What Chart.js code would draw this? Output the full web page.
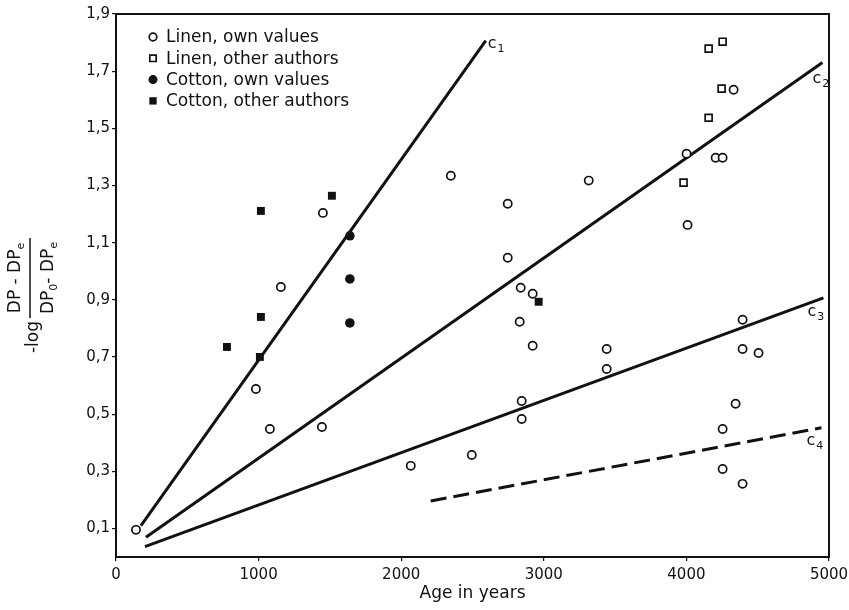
<!DOCTYPE html>
<html>
<head>
<meta charset="utf-8">
<script src="https://cdn.jsdelivr.net/npm/chart.js@4/dist/chart.umd.min.js"></script>
<style>
  html, body { margin: 0; padding: 0; background: #fff; }
  #wrap { width: 849px; height: 610px; }
</style>
</head>
<body>
<div id="wrap"><canvas id="agingChart"></canvas></div>
<script>
// values
const linenOwnX = [140, 981, 1079, 1156, 1451, 1444, 2067, 2495, 2348, 2747, 2747, 2838, 2922, 2831, 2922, 2845, 2845, 3315, 3441, 3441, 4001, 4008, 4205, 4254, 4331, 4394, 4394, 4506, 4345, 4254, 4254, 4394];
const linenOwnY = [0.095, 0.588, 0.448, 0.945, 1.204, 0.455, 0.319, 0.357, 1.334, 1.236, 1.047, 0.942, 0.921, 0.823, 0.739, 0.546, 0.483, 1.317, 0.728, 0.658, 1.411, 1.162, 1.397, 1.397, 1.635, 0.830, 0.728, 0.714, 0.536, 0.448, 0.308, 0.256];

const linenOtherX = [3980, 4156, 4247, 4156, 4254];
const linenOtherY = [1.310, 1.537, 1.639, 1.779, 1.803];

const cottonOwnX = [1640, 1640, 1640];
const cottonOwnY = [1.124, 0.973, 0.819];

const cottonOtherX = [778, 1016, 1009, 1016, 1514, 2964];
const cottonOtherY = [0.735, 0.840, 0.700, 1.211, 1.264, 0.893];

// straight lines c1..c4, start and end points
const curveNames = ['1', '2', '3', '4'];
const curveX = [[175, 2593], [210, 4954], [203, 4961], [2207, 4947]];
const curveY = [[0.11, 1.807], [0.069, 1.730], [0.036, 0.907], [0.196, 0.452]];

const seriesLabels = ['Linen, own values', 'Linen, other authors', 'Cotton, own values', 'Cotton, other authors'];
const xTicks = [0, 1000, 2000, 3000, 4000, 5000];
const yTicks = [0.1, 0.3, 0.5, 0.7, 0.9, 1.1, 1.3, 1.5, 1.7, 1.9];

const FONT = 'DejaVu Sans';
const INK = '#111';

function pts(xs, ys) {
  return xs.map((x, i) => ({ x: x, y: ys[i] }));
}

// label offsets (px) from the end of each line
const curveLabelOffset = [[2, 7], [-10, 20], [-16, 18], [-15, 17]];

const markerStyles = [
  { pointStyle: 'circle', pointRadius: 4.1, backgroundColor: '#fff', borderColor: INK, pointBorderWidth: 1.7 },
  { pointStyle: 'rect', pointRadius: 4.9, backgroundColor: '#fff', borderColor: INK, pointBorderWidth: 1.7 },
  { pointStyle: 'circle', pointRadius: 4.8, backgroundColor: INK, borderColor: INK, pointBorderWidth: 0 },
  { pointStyle: 'rect', pointRadius: 5.6, backgroundColor: INK, borderColor: INK, pointBorderWidth: 0 }
];
const seriesData = [
  pts(linenOwnX, linenOwnY),
  pts(linenOtherX, linenOtherY),
  pts(cottonOwnX, cottonOwnY),
  pts(cottonOtherX, cottonOtherY)
];

const datasets = seriesLabels.map((label, i) => Object.assign({
  label: label,
  data: seriesData[i],
  showLine: false,
  pointHoverRadius: markerStyles[i].pointRadius
}, markerStyles[i]));

curveNames.forEach((n, i) => {
  datasets.push({
    label: 'c' + n,
    data: pts(curveX[i], curveY[i]),
    showLine: true,
    borderColor: INK,
    borderWidth: 3,
    borderDash: i === 3 ? [16, 7] : [],
    pointRadius: 0,
    pointHoverRadius: 0,
    fill: false
  });
});

// frame, legend, curve labels, y axis title
const decorations = {
  id: 'decorations',
  beforeDatasetsDraw(chart) {
    const { ctx, chartArea: a } = chart;
    ctx.save();
    ctx.strokeStyle = INK;
    ctx.lineWidth = 2;
    ctx.strokeRect(a.left, a.top, a.right - a.left, a.bottom - a.top);
    ctx.restore();
  },
  afterDatasetsDraw(chart) {
    const { ctx, scales } = chart;
    ctx.save();
    ctx.fillStyle = INK;
    ctx.strokeStyle = INK;

    // legend
    seriesLabels.forEach((label, i) => {
      const m = markerStyles[i];
      const y = 37 + i * 21.3;
      const x = 153;
      ctx.beginPath();
      if (m.pointStyle === 'circle') {
        ctx.arc(x, y, m.pointRadius - 0.3, 0, Math.PI * 2);
      } else {
        const s = (m.pointRadius - 0.4) * Math.SQRT1_2;
        ctx.rect(x - s, y - s, 2 * s, 2 * s);
      }
      ctx.fillStyle = m.backgroundColor;
      ctx.fill();
      if (m.pointBorderWidth > 0) {
        ctx.lineWidth = m.pointBorderWidth;
        ctx.stroke();
      }
      ctx.fillStyle = INK;
      ctx.font = '17px "' + FONT + '"';
      ctx.textAlign = 'left';
      ctx.textBaseline = 'middle';
      ctx.fillText(label, 166, y + 1);
    });

    // c1..c4 labels next to line ends
    curveNames.forEach((n, i) => {
      const ex = scales.x.getPixelForValue(curveX[i][1]);
      const ey = scales.y.getPixelForValue(curveY[i][1]);
      const lx = ex + curveLabelOffset[i][0];
      const ly = ey + curveLabelOffset[i][1];
      ctx.textAlign = 'left';
      ctx.textBaseline = 'alphabetic';
      ctx.font = '16px "' + FONT + '"';
      ctx.fillText('c', lx, ly);
      const w = ctx.measureText('c').width;
      ctx.font = '11px "' + FONT + '"';
      ctx.fillText(n, lx + w + 1, ly + 4);
    });

    // y axis title: -log (DP - DPe)/(DP0 - DPe), rotated
    const cy = 318;
    ctx.translate(0, cy);
    ctx.rotate(-Math.PI / 2);
    ctx.textBaseline = 'alphabetic';
    ctx.font = '17px "' + FONT + '"';
    ctx.textAlign = 'right';
    ctx.fillText('-log', -3, 38);

    ctx.lineWidth = 1.5;
    ctx.beginPath();
    ctx.moveTo(0, 30);
    ctx.lineTo(80, 30);
    ctx.stroke();

    function drawParts(parts, base, center) {
      const big = '17px "' + FONT + '"';
      const small = '11px "' + FONT + '"';
      let total = 0;
      parts.forEach(p => {
        ctx.font = p.sub ? small : big;
        total += ctx.measureText(p.t).width;
      });
      let u = center - total / 2;
      ctx.textAlign = 'left';
      parts.forEach(p => {
        ctx.font = p.sub ? small : big;
        ctx.fillText(p.t, u, base + (p.sub ? 4 : 0));
        u += ctx.measureText(p.t).width;
      });
    }
    drawParts([{ t: 'DP - DP' }, { t: 'e', sub: true }], 20, 40);
    drawParts([{ t: 'DP' }, { t: '0', sub: true }, { t: '- DP' }, { t: 'e', sub: true }], 53, 40);
    ctx.restore();
  }
};

new Chart(document.getElementById('agingChart'), {
  type: 'scatter',
  data: { datasets: datasets },
  options: {
    responsive: true,
    maintainAspectRatio: false,
    animation: false,
    layout: { padding: { top: 14, right: 20, left: 0, bottom: 0 } },
    scales: {
      x: {
        type: 'linear',
        min: 0,
        max: 5000,
        afterBuildTicks: scale => { scale.ticks = xTicks.map(v => ({ value: v })); },
        afterFit: scale => {
          scale.height = 53;
          scale.paddingLeft = 0;
          scale.paddingRight = 0;
        },
        ticks: {
          color: INK,
          padding: 5,
          font: { family: FONT, size: 15 },
          callback: v => String(v)
        },
        grid: { drawOnChartArea: false, drawTicks: true, tickLength: 4, color: INK, lineWidth: 1.2 },
        border: { display: false },
        title: {
          display: true,
          text: 'Age in years',
          color: INK,
          font: { family: FONT, size: 17 },
          padding: { top: 0, bottom: 6 }
        }
      },
      y: {
        type: 'linear',
        min: 0,
        max: 1.9,
        afterBuildTicks: scale => { scale.ticks = yTicks.map(v => ({ value: v })); },
        afterFit: scale => { scale.width = 116; },
        ticks: {
          color: INK,
          padding: 2,
          font: { family: FONT, size: 15 },
          callback: v => v.toFixed(1).replace('.', ',')
        },
        grid: { drawOnChartArea: false, drawTicks: true, tickLength: 4, color: INK, lineWidth: 1.2 },
        border: { display: false }
      }
    },
    plugins: {
      legend: { display: false },
      tooltip: { enabled: true }
    }
  },
  plugins: [decorations]
});
</script>
</body>
</html>
